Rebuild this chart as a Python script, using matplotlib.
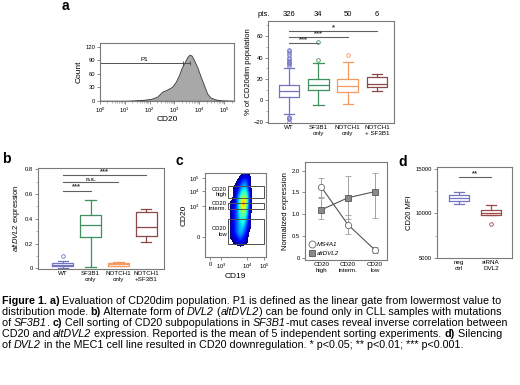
import numpy as np
import matplotlib
matplotlib.use('Agg')
import matplotlib.pyplot as plt
from matplotlib.patches import Rectangle
from matplotlib.lines import Line2D

plt.rcParams['font.family'] = ['Liberation Sans', 'DejaVu Sans']
plt.rcParams['mathtext.fontset'] = 'custom'
plt.rcParams['mathtext.rm'] = 'Liberation Sans'
plt.rcParams['mathtext.it'] = 'Liberation Sans:italic'
plt.rcParams['mathtext.bf'] = 'Liberation Sans:bold'

# ---- data ----
# a) histogram of CD20 (log10 CD20 vs count)
hist_logx = [0.0, 1.1, 1.64, 2.04, 2.3, 2.5, 2.7, 2.9, 3.05, 3.18, 3.3, 3.42, 3.52,
             3.61, 3.69, 3.78, 3.92, 4.05, 4.19, 4.32, 4.46, 4.66, 4.86, 5.4]
hist_count = [0, 0, 1.5, 4, 9, 20, 25, 31, 42, 57, 75, 87, 98,
              103, 101, 92, 75, 55, 35, 16, 7, 3, 1, 0]
p1_level = 85
p1_range = [1, 10 ** 3.62]

# a) boxplot, % of CD20dim population
a_groups = ['WT', 'SF3B1\nonly', 'NOTCH1\nonly', 'NOTCH1\n+ SF3B1']
a_counts = [326, 34, 50, 6]
a_med = [8.7, 14.0, 13.7, 15.2]
a_q1 = [2.8, 9.6, 7.8, 12.1]
a_q3 = [14.3, 20.2, 19.6, 21.7]
a_wlo = [-13.0, -4.3, -3.7, 9.0]
a_whi = [30.4, 34.5, 35.7, 24.2]
a_fliers = [[32, 33.5, 35, 36, 37, 38.5, 40, 42, 44, 46, 47, -15, -16, -17, -20],
            [37.3, 54.7], [42.2], []]
a_sig = [(1, 2, 53.7, '***'), (1, 3, 59.3, '***'), (1, 4, 64.9, '*')]

# b) altDVL2 expression
b_groups = ['WT', 'SF3B1\nonly', 'NOTCH1\nonly', 'NOTCH1\n+SF3B1']
b_med = [0.03, 0.353, 0.033, 0.334]
b_q1 = [0.016, 0.255, 0.021, 0.263]
b_q3 = [0.045, 0.427, 0.043, 0.452]
b_wlo = [0.005, 0.011, 0.017, 0.216]
b_whi = [0.06, 0.553, 0.05, 0.479]
b_fliers = [[0.099], [], [], []]
b_sig = [(1, 2, 0.627, '***'), (1, 3, 0.693, 'n.s.'), (1, 4, 0.753, '***')]

group_colors = ['#7474c4', '#3f8f5f', '#f59a62', '#8c4848']

# c) flow density (rows top->bottom, CD20 display units 102..8; cols CD19 36..84)
dens = np.array([
    [0, 0, 0, 0, 0, 0, 1, 0, 0, 0],
    [0, 0, 0, 0, 1, 2, 2, 1, 0, 0],
    [0, 0, 0, 1, 2, 3, 3, 1, 0, 0],
    [0, 0, 1, 1, 3, 4, 4, 1, 0, 0],
    [0, 0, 1, 2, 4, 5, 5, 2, 0, 0],
    [0, 0, 1, 3, 5, 7, 6, 2, 0, 0],
    [0, 1, 1, 3, 6, 10, 6, 2, 0, 0],
    [0, 1, 2, 3, 6, 8, 5, 2, 0, 0],
    [0, 1, 2, 3, 5, 6, 5, 1, 0, 0],
    [0, 1, 2, 3, 5, 5, 4, 1, 0, 0],
    [0, 1, 2, 3, 4, 5, 3, 1, 0, 0],
    [0, 1, 2, 3, 4, 4, 2, 1, 0, 0],
    [0, 1, 2, 3, 4, 3, 2, 0, 0, 0],
    [0, 1, 1, 2, 3, 2, 1, 0, 0, 0],
    [0, 0, 1, 1, 2, 1, 1, 0, 0, 0],
    [0, 0, 0, 0, 0, 0, 0, 0, 0, 0],
], dtype=float)
dens_extent = (36, 84, 8, 102)
gates = {'CD20\nhigh': (37.7, 70.2, 96.7, 84.5),
         'CD20\ninterm.': (37.7, 57.0, 96.7, 64.0),
         'CD20\nlow': (37.7, 15.5, 96.7, 45.0)}
flow_yticks = [23.8, 60.7, 78.6, 94]
flow_xticks = [8.3, 26.7, 69, 97]
flow_ticklabels = ['0', '$10^3$', '$10^4$', '$10^5$']

# c) normalized expression in sorted fractions
c_cats = ['CD20\nhigh', 'CD20\ninterm.', 'CD20\nlow']
ms4a1 = [1.63, 0.76, 0.18]
ms4a1_lo = [1.40, 0.55, 0.11]
ms4a1_hi = [1.84, 0.99, 0.25]
altdvl2 = [1.10, 1.38, 1.52]
altdvl2_lo = [0.90, 0.90, 0.92]
altdvl2_hi = [1.38, 1.89, 1.95]

# d) CD20 MFI
d_groups = ['neg\nctrl', 'siRNA\nDVL2']
d_med = [11740, 10080]
d_q1 = [11440, 9810]
d_q3 = [12070, 10370]
d_wlo = [11070, 9810]
d_whi = [12400, 10890]
d_fliers = [[], [8860]]
d_colors = ['#7474c4', '#a04848']

W, H = 520, 385
fig = plt.figure(figsize=(W / 100, H / 100), dpi=100)
EDGE = '#7a7a7a'
TFS = 4.2


def px(x0, y0, x1, y1):
    return [x0 / W, 1 - y1 / H, (x1 - x0) / W, (y1 - y0) / H]


def style_ax(ax):
    for s in ax.spines.values():
        s.set_color(EDGE)
        s.set_linewidth(0.8)
    ax.tick_params(labelsize=TFS, length=2, width=0.6, color=EDGE, pad=1.5)


def boxes(ax, med, q1, q3, wlo, whi, fliers, colors, width=0.7):
    for i in range(len(med)):
        st = [dict(med=med[i], q1=q1[i], q3=q3[i], whislo=wlo[i], whishi=whi[i], fliers=fliers[i])]
        c = colors[i]
        ax.bxp(st, positions=[i + 1], widths=width, capwidths=width * 0.5,
               boxprops=dict(color=c, lw=0.9), medianprops=dict(color=c, lw=0.9),
               whiskerprops=dict(color=c, lw=0.9), capprops=dict(color=c, lw=0.9),
               flierprops=dict(marker='o', markersize=2.6, markerfacecolor='none',
                               markeredgecolor=c, markeredgewidth=0.6))


def sig(ax, x0, x1, y, txt, fs=5.5):
    ax.plot([x0, x1], [y, y], color='#606060', lw=0.8)
    ax.text((x0 + x1) / 2, y, txt, ha='center', va='bottom', fontsize=fs,
            fontweight='bold', color='#333333', linespacing=0.5)


# ---- a) histogram ----
ax = fig.add_axes(px(100, 43, 234, 101))
style_ax(ax)
xs = [10 ** v for v in hist_logx]
ax.fill_between(xs, hist_count, color='#a8a8a8', edgecolor='#3a3a3a', lw=0.6)
ax.set_xscale('log')
ax.set_xlim(1, 10 ** 5.4)
ax.set_ylim(-0.5, 129)
ax.set_yticks([0, 30, 60, 90, 120])
ax.set_xticks([1, 10, 100, 1e3, 1e4, 1e5])
ax.tick_params(which='minor', length=1.2, width=0.4, color=EDGE)
ax.hlines(p1_level, p1_range[0], p1_range[1], color='#505050', lw=0.7)
ax.plot([10 ** 3.35, p1_range[1]], [p1_level, p1_level], '|', color='#404040', ms=3, mew=0.6)
ax.text(10 ** 1.62, p1_level + 2, 'P1', fontsize=4.5, ha='left', va='bottom')
ax.set_ylabel('Count', fontsize=6, labelpad=2)
ax.set_xlabel('CD20', fontsize=6, labelpad=0.5)
fig.text(62 / W, 1 - 6 / H, 'a', fontsize=10, fontweight='bold', ha='left', va='center')

# ---- a) boxplot ----
ax = fig.add_axes(px(268, 21, 394, 123))
style_ax(ax)
boxes(ax, a_med, a_q1, a_q3, a_wlo, a_whi, a_fliers, group_colors)
for x0, x1, y, t in a_sig:
    sig(ax, x0, x1, y, t)
ax.set_xlim(0.28, 4.58)
ax.set_ylim(-21, 74)
ax.set_yticks([-20, 0, 20, 40, 60])
ax.set_yticks([-10, 10, 30, 50, 70], minor=True)
ax.tick_params(which='minor', length=1.2, width=0.4, color=EDGE)
ax.set_xticks([1, 2, 3, 4])
ax.set_xticklabels(a_groups, fontsize=4.5, linespacing=1.2)
ax.tick_params(axis='x', length=0)
ax.set_ylabel('% of CD20dim population', fontsize=5.5, labelpad=1)
for i, n in enumerate(a_counts):
    ax.text(i + 1, 1.03, str(n), transform=ax.get_xaxis_transform(), ha='center',
            va='bottom', fontsize=5.5)
fig.text(258 / W, 1 - 15 / H, 'pts.', fontsize=5.5, ha='left', va='center')

# ---- b) ----
ax = fig.add_axes(px(38, 168, 164, 269))
style_ax(ax)
boxes(ax, b_med, b_q1, b_q3, b_wlo, b_whi, b_fliers, group_colors, width=0.75)
for x0, x1, y, t in b_sig:
    sig(ax, x0, x1, y, t, fs=5.5 if t != 'n.s.' else 4.5)
ax.set_xlim(0.11, 4.64)
ax.set_ylim(-0.006, 0.81)
ax.set_yticks([0, 0.2, 0.4, 0.6, 0.8])
ax.set_yticklabels(['0', '0.2', '0.4', '0.6', '0.8'])
ax.set_yticks([0.1, 0.3, 0.5, 0.7], minor=True)
ax.tick_params(which='minor', length=1.2, width=0.4, color=EDGE)
ax.set_xticks([1, 2, 3, 4])
ax.set_xticklabels(b_groups, fontsize=4.5, linespacing=1.2)
ax.tick_params(axis='x', length=0)
ax.set_ylabel(r'$\mathit{altDVL2}$ expression', fontsize=5.5, labelpad=2)
fig.text(2 / W, 1 - 159 / H, 'b', fontsize=10, fontweight='bold', ha='left', va='center')

# ---- c) flow plot ----
ax = fig.add_axes(px(205, 173, 266, 257))
style_ax(ax)
cmap = plt.get_cmap('jet').copy()
cmap.set_under('white')
ax.imshow(dens, extent=dens_extent, cmap=cmap, vmin=0.45, vmax=11, aspect='auto',
          interpolation='bicubic', interpolation_stage='data', origin='upper')
for lab, (x0, y0, x1, y1) in gates.items():
    ax.add_patch(Rectangle((x0, y0), x1 - x0, y1 - y0, fill=False, ec='#505050', lw=0.7))
    ax.text(x0 - 1.5, (y0 + y1) / 2, lab, ha='right', va='center', fontsize=4.2,
            linespacing=1.1)
ax.set_xlim(0, 100)
ax.set_ylim(0, 100)
ax.set_xticks(flow_xticks)
ax.set_xticklabels(flow_ticklabels)
ax.set_yticks(flow_yticks)
ax.set_yticklabels(flow_ticklabels)
ax.set_xlabel('CD19', fontsize=6, labelpad=1)
ax.set_ylabel('CD20', fontsize=6, labelpad=1)
fig.text(176 / W, 1 - 161 / H, 'c', fontsize=10, fontweight='bold', ha='left', va='center')

# ---- c) normalized expression ----
ax = fig.add_axes(px(305, 162, 387, 260))
style_ax(ax)
xc = np.arange(len(c_cats))
ax.errorbar(xc, ms4a1, yerr=[np.subtract(ms4a1, ms4a1_lo), np.subtract(ms4a1_hi, ms4a1)],
            fmt='-', color='#555555', lw=0.8, ecolor='#a0a0a0', elinewidth=0.7, capsize=2,
            capthick=0.7, marker='o', ms=4.5, mfc='white', mec='#666666', mew=0.6, zorder=3)
ax.errorbar(xc, altdvl2, yerr=[np.subtract(altdvl2, altdvl2_lo), np.subtract(altdvl2_hi, altdvl2)],
            fmt='-', color='#555555', lw=0.8, ecolor='#a0a0a0', elinewidth=0.7, capsize=2,
            capthick=0.7, marker='s', ms=4, mfc='#8a8a8a', mec='#555555', mew=0.6, zorder=3)
ax.set_xlim(-0.6, 2.45)
ax.set_ylim(-0.05, 2.2)
ax.set_yticks([0, 0.5, 1.0, 1.5, 2.0])
ax.set_yticklabels(['0', '0.5', '1.0', '1.5', '2.0'])
ax.set_xticks(xc)
ax.set_xticklabels(c_cats, fontsize=4.5, linespacing=1.3)
ax.tick_params(axis='x', length=0)
ax.set_ylabel('Normalized expression', fontsize=5.5, labelpad=2)
handles = [Line2D([], [], ls='none', marker='o', ms=5, mfc='white', mec='#666666', mew=0.6),
           Line2D([], [], ls='none', marker='s', ms=5, mfc='#8a8a8a', mec='#555555', mew=0.6)]
ax.legend(handles, ['MS4A1', 'altDVL2'], loc='lower left', frameon=False,
          prop={'style': 'italic', 'size': 4.5}, handletextpad=0.3, borderaxespad=0.2,
          labelspacing=0.6, handlelength=1.0)

# ---- d) ----
ax = fig.add_axes(px(437, 167, 512, 258))
style_ax(ax)
boxes(ax, d_med, d_q1, d_q3, d_wlo, d_whi, d_fliers, d_colors, width=0.6)
sig(ax, 1, 2, 14100, '**')
ax.set_xlim(0.31, 2.66)
ax.set_ylim(5000, 15200)
ax.set_yticks([5000, 10000, 15000])
ax.set_yticks([7500, 12500], minor=True)
ax.tick_params(which='minor', length=1.2, width=0.4, color=EDGE)
ax.set_xticks([1, 2])
ax.set_xticklabels(d_groups, fontsize=4.5, linespacing=1.2)
ax.tick_params(axis='x', length=0)
ax.set_ylabel('CD20 MFI', fontsize=5.5, labelpad=2)
fig.text(398 / W, 1 - 162 / H, 'd', fontsize=10, fontweight='bold', ha='left', va='center')

# ---- caption ----
caption = [
    [('Figure 1. a)', 'b'), (' Evaluation of CD20dim population. P1 is defined as the linear gate from lowermost value to', '')],
    [('distribution mode. ', ''), ('b)', 'b'), (' Alternate form of ', ''), ('DVL2', 'i'), (' (', ''),
     ('altDVL2', 'i'), (') can be found only in CLL samples with mutations', '')],
    [('of ', ''), ('SF3B1', 'i'), ('. ', ''), ('c)', 'b'), (' Cell sorting of CD20 subpopulations in ', ''),
     ('SF3B1', 'i'), ('-mut cases reveal inverse correlation between', '')],
    [('CD20 and ', ''), ('altDVL2', 'i'),
     (' expression. Reported is the mean of 5 independent sorting experiments. ', ''), ('d)', 'b'),
     (' Silencing', '')],
    [('of ', ''), ('DVL2', 'i'), (' in the MEC1 cell line resulted in CD20 downregulation. * p<0.05; ** p<0.01; *** p<0.001.', '')],
]
renderer = fig.canvas.get_renderer()
CFS = 7.75


def text_width(s, style):
    kw = dict(fontsize=CFS, fontweight='bold' if style == 'b' else 'normal',
              fontstyle='italic' if style == 'i' else 'normal')
    t1 = fig.text(0, 0, s + '|', **kw)
    t2 = fig.text(0, 0, '|', **kw)
    w = t1.get_window_extent(renderer).width - t2.get_window_extent(renderer).width
    t1.remove()
    t2.remove()
    return w


for li, line in enumerate(caption):
    x = 1.5
    yb = 304.5 + li * 10.8
    for s, style in line:
        fig.text(x / W, 1 - yb / H, s, fontsize=CFS, va='baseline', ha='left',
                 fontweight='bold' if style == 'b' else 'normal',
                 fontstyle='italic' if style == 'i' else 'normal')
        x += text_width(s, style)

fig.savefig('out.png', dpi=100)
